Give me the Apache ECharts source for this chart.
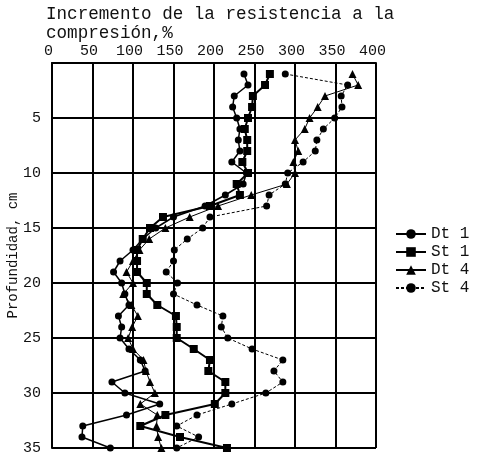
<!DOCTYPE html>
<html>
<head>
<meta charset="utf-8">
<script src="https://cdn.jsdelivr.net/npm/echarts@6/dist/echarts.min.js"></script>
<style>
  html, body { margin: 0; padding: 0; background: #fff; }
  #chart { width: 481px; height: 454px; }
</style>
</head>
<body>
<div id="chart"></div>
<script>
// profundidad (cm)
const depth = [1, 2, 3, 4, 5, 6, 7, 8, 9, 10, 11, 12, 13, 14, 15, 16, 17, 18, 19, 20,
  21, 22, 23, 24, 25, 26, 27, 28, 29, 30, 31, 32, 33, 34, 35];

// incremento de la resistencia a la compresión, %
const dt1 = [237, 242, 225, 223, 228, 232, 230, 232, 222, 240, 236, 214, 189, 150, 128, 112, 100, 84, 76, 86,
  90, 95, 82, 86, 84, 95, 109, 115, 74, 90, 133, 92, 38, 37, 72];
const st1 = [269, 263, 248, 247, 242, 238, 241, 241, 235, 242, 228, 232, 195, 137, 121, 112, 105, 105, 105, 117,
  117, 130, 153, 154, 154, 175, 195, 193, 214, 214, 201, 140, 109, 158, 216];
const dt4 = [371, 378, 337, 328, 318, 312, 300, 304, 298, 300, 290, 246, 205, 170, 140, 120, 108, 100, 92, 100,
  88, 98, 106, 99, 94, 100, 113, 116, 121, 127, 109, 130, 129, 131, 135];
const st4 = [288, 365, 357, 358, 349, 335, 327, 325, 310, 291, 288, 268, 265, 195, 186, 167, 151, 150, 141, 155,
  150, 179, 211, 209, 217, 247, 285, 274, 285, 264, 222, 179, 154, 181, 154];

const xTicks = [0, 50, 100, 150, 200, 250, 300, 350, 400];

const font = "'Liberation Mono', 'DejaVu Sans Mono', monospace";

const toPts = (vals) => vals.map((v, i) => [v, depth[i]]);

const mkSeries = (name, vals, symbol, size, width, type) => ({
  name,
  type: "line",
  data: toPts(vals),
  symbol,
  symbolSize: size,
  clip: false,
  showSymbol: true,
  itemStyle: { color: "#000" },
  lineStyle: { color: "#000", width, type },
  emphasis: { disabled: true },
});

const chart = echarts.init(document.getElementById("chart"), null, { renderer: "canvas" });
chart.setOption({
  animation: false,
  backgroundColor: "#fff",
  title: {
    text: "Incremento de la resistencia a la\ncompresión,%",
    left: 41,
    top: 0,
    textStyle: { fontFamily: font, fontSize: 17.6, fontWeight: "normal", color: "#111", lineHeight: 19 },
  },
  legend: {
    orient: "vertical",
    left: 390,
    top: 221,
    itemWidth: 30,
    itemHeight: 12,
    itemGap: 2,
    textStyle: { fontFamily: font, fontSize: 16, color: "#111" },
    data: ["Dt 1", "St 1", "Dt 4", "St 4"],
  },
  grid: { left: 52, right: 105, top: 63, bottom: 6, outerBoundsMode: "none" },
  xAxis: {
    type: "value",
    position: "top",
    min: 0,
    max: 400,
    interval: 50,
    axisLine: { show: true, lineStyle: { color: "#000", width: 2 } },
    axisTick: { show: false },
    axisLabel: {
      margin: 4,
      padding: [0, 7, 0, 0],
      fontFamily: font,
      fontSize: 15,
      color: "#111",
      formatter: (v) => (xTicks.includes(v) ? String(v) : ""),
    },
    splitLine: { show: true, lineStyle: { color: "#000", width: 2 } },
  },
  yAxis: {
    type: "value",
    inverse: true,
    min: 0,
    max: 35,
    interval: 5,
    name: "Profundidad, cm",
    nameLocation: "middle",
    nameRotate: 90,
    nameGap: 32,
    nameMoveOverlap: false,
    nameTextStyle: { fontFamily: font, fontSize: 14, color: "#111" },
    axisLine: { show: true, lineStyle: { color: "#000", width: 2 } },
    axisTick: { show: false },
    axisLabel: {
      margin: 11,
      fontFamily: font,
      fontSize: 15,
      color: "#111",
      formatter: (v) => (v === 0 ? "" : String(v)),
    },
    splitLine: { show: true, lineStyle: { color: "#000", width: 2 } },
  },
  series: [
    mkSeries("Dt 1", dt1, "circle", 7, 1.5, "solid"),
    mkSeries("St 1", st1, "rect", 8, 2, "solid"),
    mkSeries("Dt 4", dt4, "triangle", 8, 1, "solid"),
    mkSeries("St 4", st4, "circle", 7, 1, [3, 2]),
  ],
});
</script>
</body>
</html>
